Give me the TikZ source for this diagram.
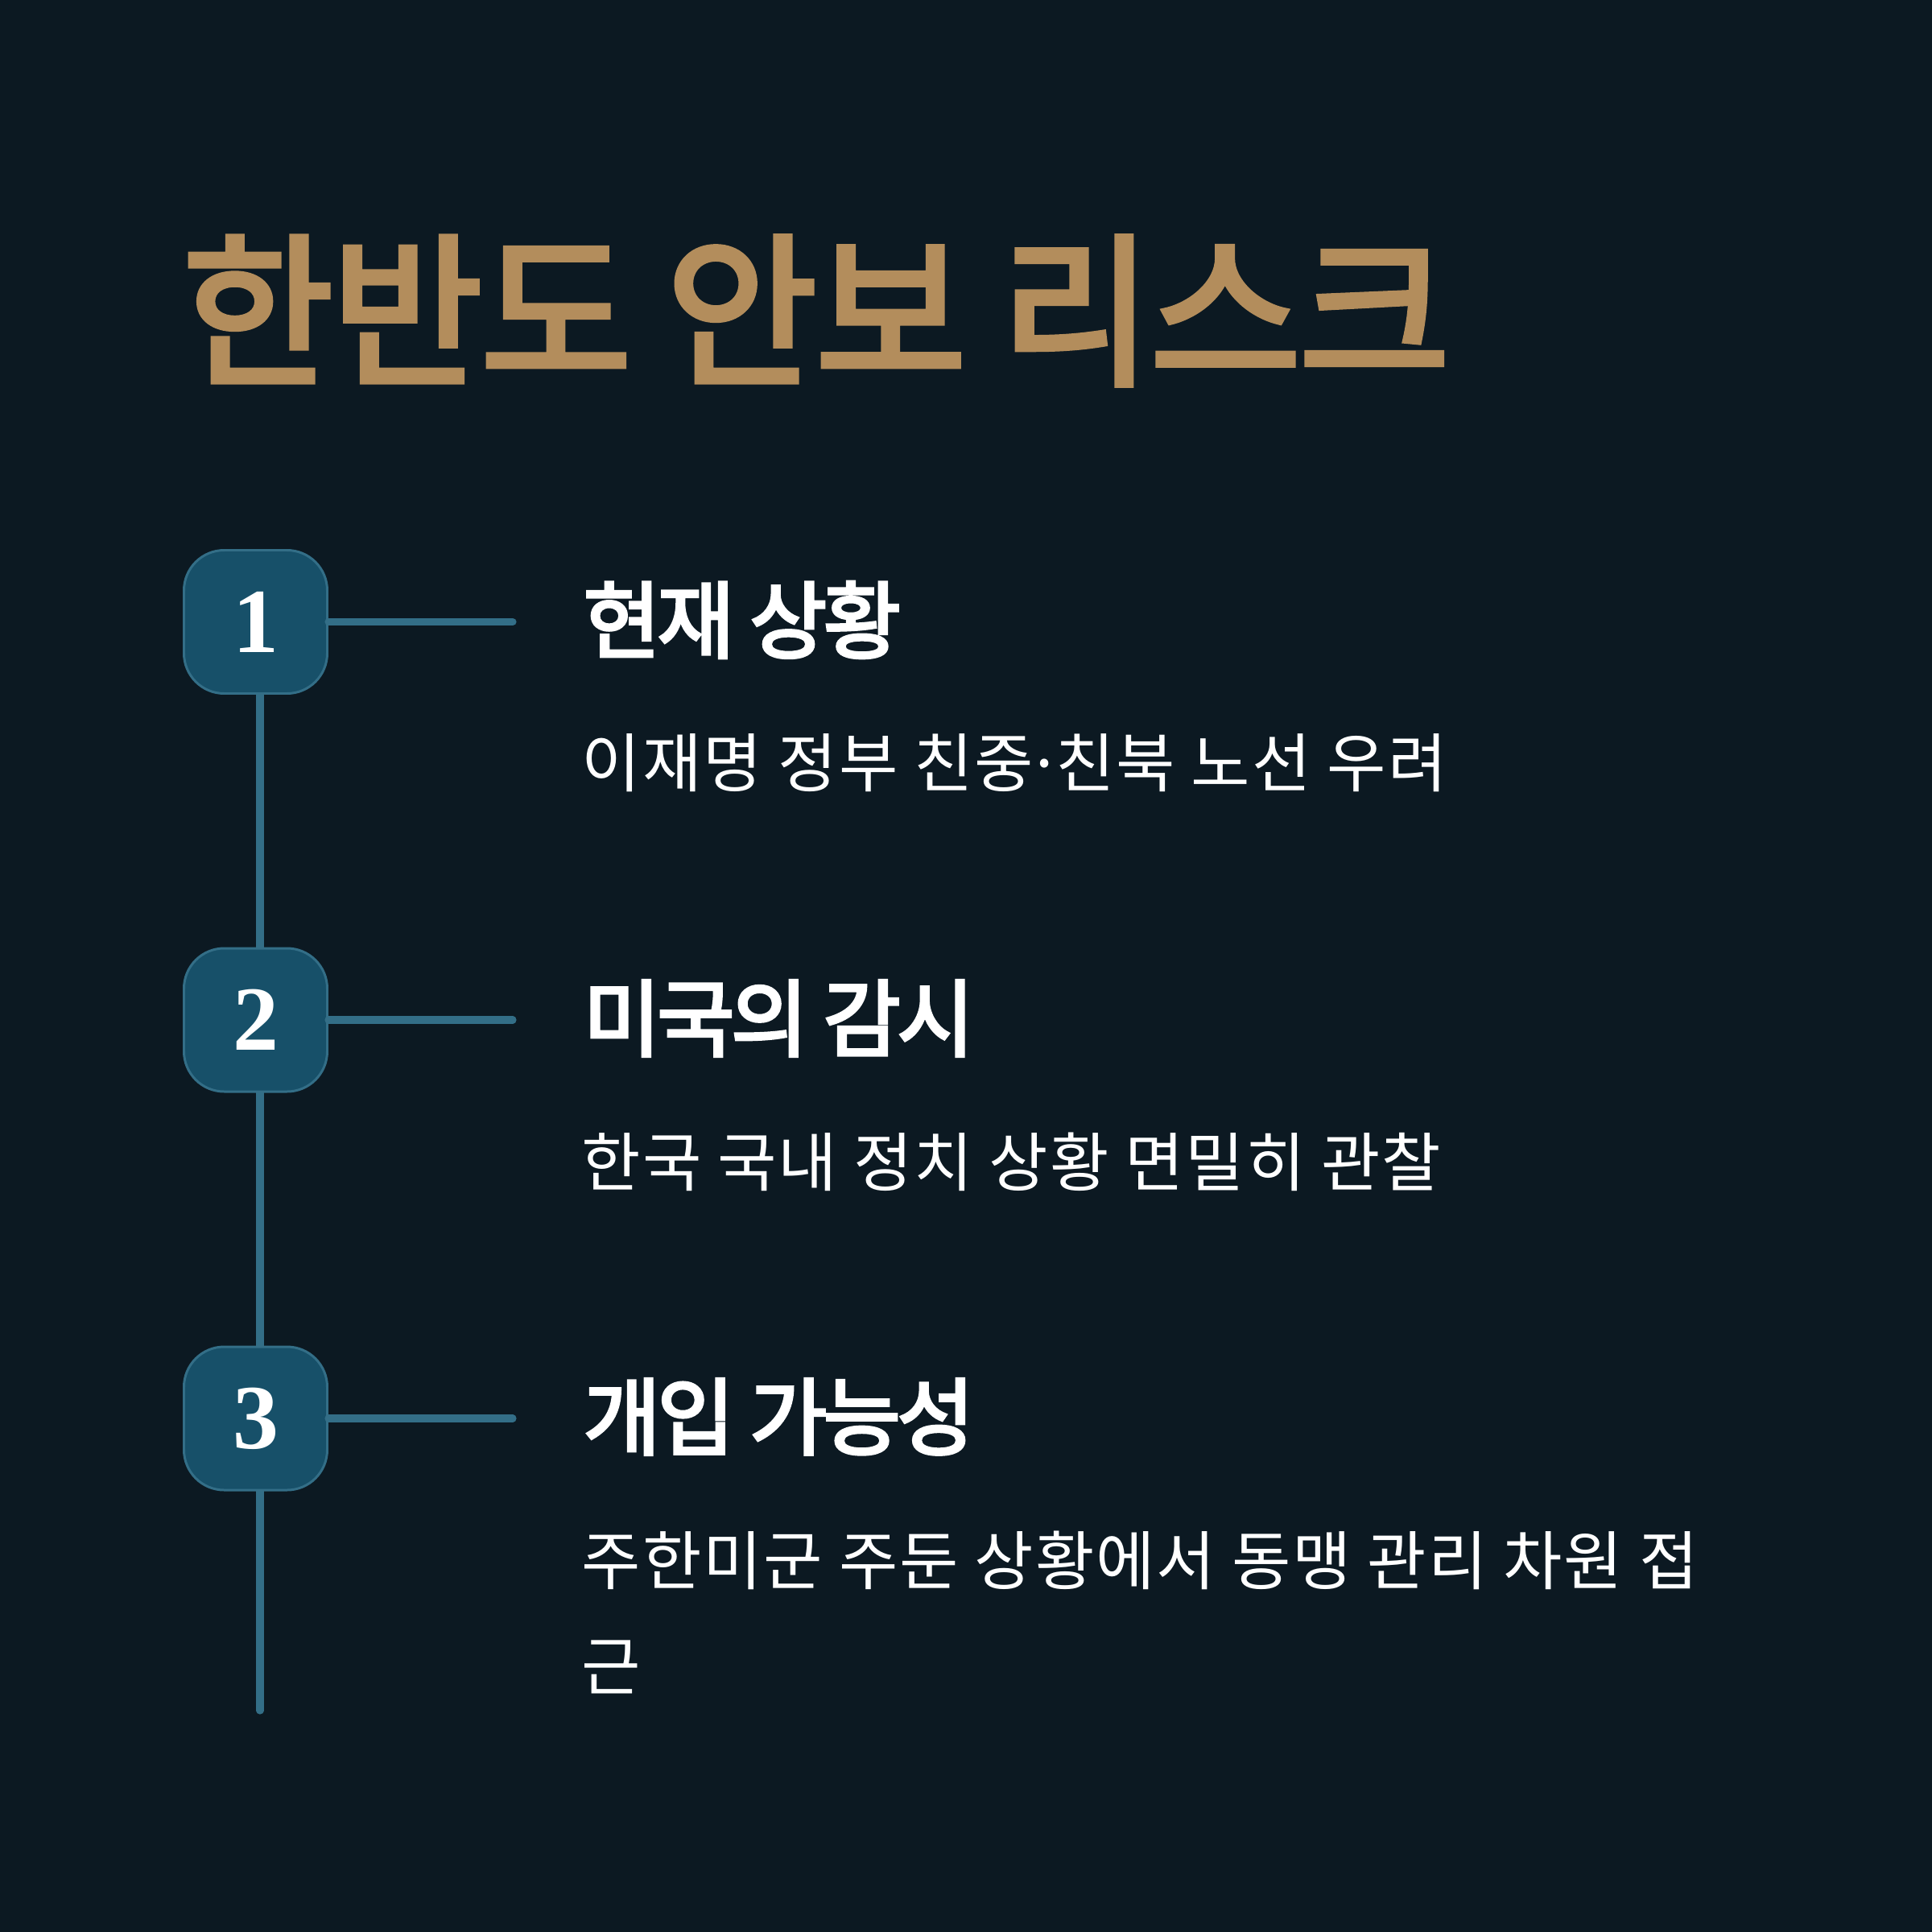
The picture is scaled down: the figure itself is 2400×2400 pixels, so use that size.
\documentclass[tikz,border=0pt]{standalone}
\usepackage{fontspec}
\newfontfamily\krtitle{Noto Sans CJK KR}[LetterSpace=-1.2,FakeBold=3.5]
\newfontfamily\krhead{Noto Sans CJK KR}[LetterSpace=-4.3,FakeBold=3.5]
\newfontfamily\krdesc{Noto Sans CJK KR}[LetterSpace=2.5]
\newfontfamily\numfont{Liberation Serif}
\definecolor{bgc}{HTML}{0C1922}
\definecolor{goldc}{HTML}{B38D5C}
\definecolor{boxc}{HTML}{175069}
\definecolor{linec}{HTML}{336E87}
\begin{document}
\begin{tikzpicture}[x=0.1mm,y=-0.1mm,
  stepbox/.style={draw=linec, fill=boxc, line width=0.85pt, rounded corners=5mm,
    minimum width=17.8mm, minimum height=17.8mm, inner sep=0pt,
    text=white, font=\numfont\bfseries\fontsize{32.4}{38}\selectfont},
  conn/.style={draw=linec, line width=2.6pt, line cap=round},
  titletext/.style={anchor=west, inner sep=0pt, text=goldc,
    font=\krtitle\fontsize{58}{70}\selectfont},
  headtext/.style={anchor=west, inner sep=0pt, text=white,
    font=\krhead\fontsize{29.7}{36}\selectfont},
  desctext/.style={anchor=west, inner sep=0pt, text=white, align=left,
    font=\krdesc\fontsize{22.7}{37.3}\selectfont}]
\fill[bgc] (0,0) rectangle (2400,2400);
\useasboundingbox (0,0) rectangle (2400,2400);
% title
\node[titletext] (title) at (226,386) {한반도 안보 리스크};
% timeline
\coordinate (vend) at (323,2125);
\coordinate (h1) at (637,772.5);
\coordinate (h2) at (637,1267);
\coordinate (h3) at (637,1762);
\path (317.5,772.5) coordinate (c1);
\draw[conn] (c1 -| vend) -- (vend);
\node[stepbox] (b1) at (317.5,772.5) {1};
\node[stepbox] (b2) at (317.5,1267) {2};
\node[stepbox] (b3) at (317.5,1762) {3};
\draw[conn] (b1.east) -- (h1);
\draw[conn] (b2.east) -- (h2);
\draw[conn] (b3.east) -- (h3);
% texts
\node[headtext] (t1) at (724,770) {현재 상황};
\node[desctext] (d1) at (722,948) {이재명 정부 친중\kern-2.5pt·\kern-2.5pt친북 노선 우려};
\node[headtext] (t2) at (724,1265) {미국의 감시};
\node[desctext] (d2) at (722,1443) {한국 국내 정치 상황 면밀히 관찰};
\node[headtext] (t3) at (724,1760) {개입 가능성};
\node[desctext] (d3) at (722,2003) {주한미군 주둔 상황에서 동맹 관리 차원 접\\근};
\end{tikzpicture}
\end{document}
